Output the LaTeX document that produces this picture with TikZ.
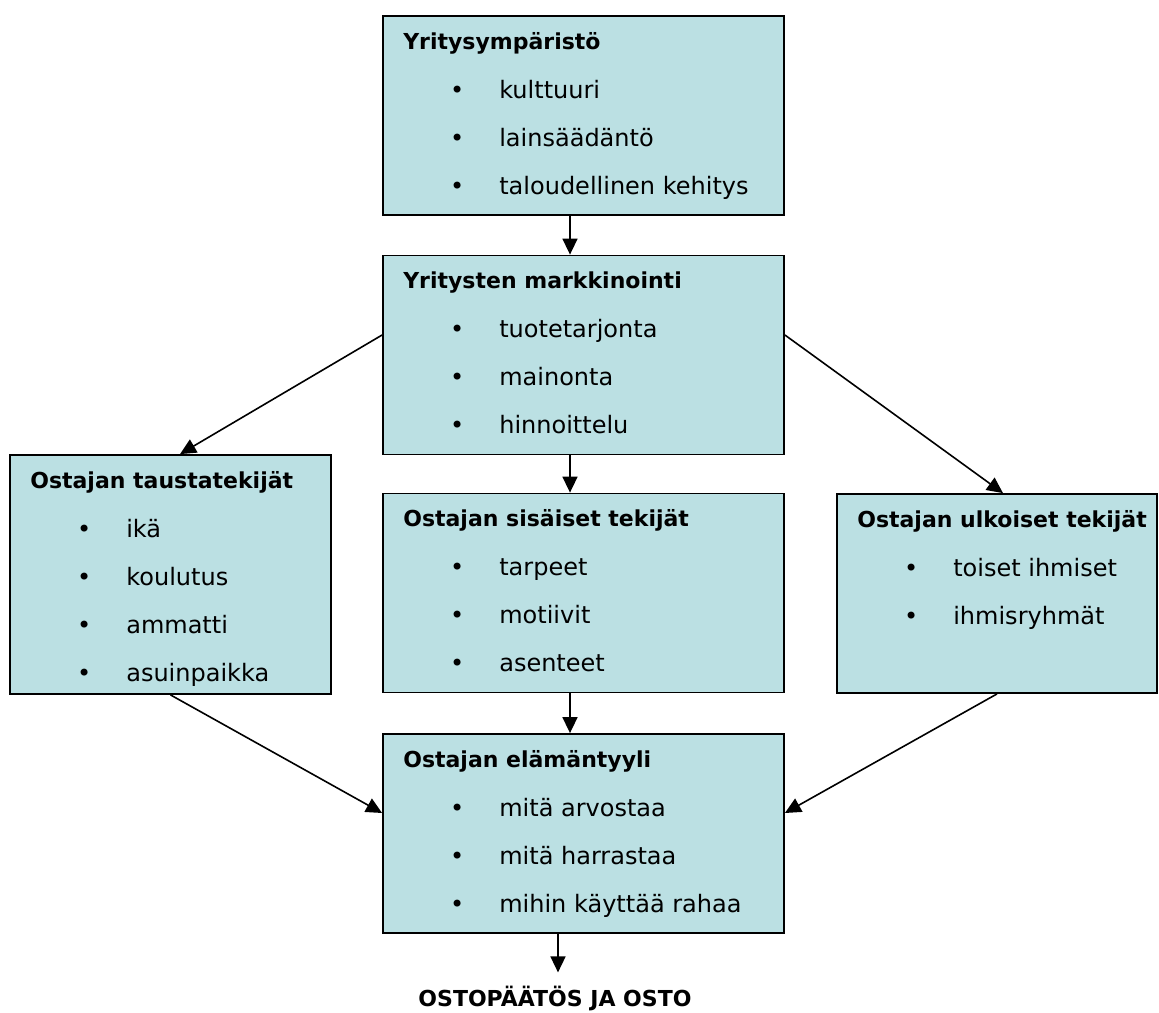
\documentclass[tikz,border=0pt]{standalone}
\usepackage{fontspec}
\setmainfont{DejaVu Sans}
\usepackage{xcolor}
\usepackage{tikz}
\usetikzlibrary{arrows.meta}

\definecolor{boxfill}{RGB}{187,224,227}

\tikzset{
  box/.style={draw, rectangle, fill=boxfill, line width=1.8pt, minimum width=401pt, minimum height=199pt, inner sep=0pt},
  title/.style={anchor=base west, inner sep=0pt, font=\fontsize{22}{26}\selectfont\bfseries},
  bul/.style={anchor=base, inner sep=0pt, font=\fontsize{24}{28}\selectfont},
  item/.style={anchor=base west, inner sep=0pt, font=\fontsize{24}{28}\selectfont},
  arr/.style={-{Triangle[length=16pt,width=15pt]}, line width=1.6pt}
}

\begin{document}
\begin{tikzpicture}[x=1pt, y=-1pt]
      \useasboundingbox (0,0) rectangle (1159,1012);

      \node[box] (env) at (583.5,115.5) {};
      \node[box] (mark) at (583.5,355) {};
      \node[box, minimum width=321pt, minimum height=239pt] (tausta) at (170.5,574.5) {};
      \node[box] (sis) at (583.5,593) {};
      \node[box, minimum width=320pt] (ulk) at (997,593.5) {};
      \node[box] (elama) at (583.5,833.5) {};

      \node[title] (env-t) at ([xshift=21pt,yshift=-34pt]env.north west) {Yritysympäristö};
      \foreach \t [count=\i] in {kulttuuri, lainsäädäntö, taloudellinen kehitys} {
        \node[bul] (env-b\i) at ([xshift=75pt,yshift={-35pt-48pt*\i}]env.north west) {•};
        \node[item] (env-i\i) at ([xshift=117pt,yshift={-35pt-48pt*\i}]env.north west) {\t};
      }

      \node[title] (mark-t) at ([xshift=21pt,yshift=-34pt]mark.north west) {Yritysten markkinointi};
      \foreach \t [count=\i] in {tuotetarjonta, mainonta, hinnoittelu} {
        \node[bul] (mark-b\i) at ([xshift=75pt,yshift={-35pt-48pt*\i}]mark.north west) {•};
        \node[item] (mark-i\i) at ([xshift=117pt,yshift={-35pt-48pt*\i}]mark.north west) {\t};
      }

      \node[title] (tausta-t) at ([xshift=21pt,yshift=-34pt]tausta.north west) {Ostajan taustatekijät};
      \foreach \t [count=\i] in {ikä, koulutus, ammatti, asuinpaikka} {
        \node[bul] (tausta-b\i) at ([xshift=75pt,yshift={-35pt-48pt*\i}]tausta.north west) {•};
        \node[item] (tausta-i\i) at ([xshift=117pt,yshift={-35pt-48pt*\i}]tausta.north west) {\t};
      }

      \node[title] (sis-t) at ([xshift=21pt,yshift=-34pt]sis.north west) {Ostajan sisäiset tekijät};
      \foreach \t [count=\i] in {tarpeet, motiivit, asenteet} {
        \node[bul] (sis-b\i) at ([xshift=75pt,yshift={-35pt-48pt*\i}]sis.north west) {•};
        \node[item] (sis-i\i) at ([xshift=117pt,yshift={-35pt-48pt*\i}]sis.north west) {\t};
      }

      \node[title] (ulk-t) at ([xshift=21pt,yshift=-34pt]ulk.north west) {Ostajan ulkoiset tekijät};
      \foreach \t [count=\i] in {toiset ihmiset, ihmisryhmät} {
        \node[bul] (ulk-b\i) at ([xshift=75pt,yshift={-35pt-48pt*\i}]ulk.north west) {•};
        \node[item] (ulk-i\i) at ([xshift=117pt,yshift={-35pt-48pt*\i}]ulk.north west) {\t};
      }

      \node[title] (elama-t) at ([xshift=21pt,yshift=-34pt]elama.north west) {Ostajan elämäntyyli};
      \foreach \t [count=\i] in {mitä arvostaa, mitä harrastaa, mihin käyttää rahaa} {
        \node[bul] (elama-b\i) at ([xshift=75pt,yshift={-35pt-48pt*\i}]elama.north west) {•};
        \node[item] (elama-i\i) at ([xshift=117pt,yshift={-35pt-48pt*\i}]elama.north west) {\t};
      }

      \node[anchor=base, inner sep=0pt, font=\fontsize{22}{26}\selectfont\bfseries] (osto) at (555,1006) {OSTOPÄÄTÖS JA OSTO};

      \draw[arr] ([xshift=-13.5pt]env.south) to ([xshift=-13.5pt]mark.north);
      \draw[arr] ([xshift=-13.5pt]mark.south) to ([xshift=-13.5pt]sis.north);
      \draw[arr] ([xshift=-13.5pt]sis.south) to ([xshift=-13.5pt]elama.north);
      \draw[arr] ([yshift=20pt]mark.west) to ([xshift=9.5pt]tausta.north);
      \draw[arr] ([yshift=20pt]mark.east) to ([xshift=6pt]ulk.north);
      \draw[arr] (tausta.south) to ([yshift=20.5pt]elama.west);
      \draw[arr] (ulk.south) to ([yshift=20.5pt]elama.east);
      \draw[arr] ([xshift=-25.5pt]elama.south) to ([xshift=3pt,yshift=13pt]osto.north);
    \end{tikzpicture}
\end{document}
